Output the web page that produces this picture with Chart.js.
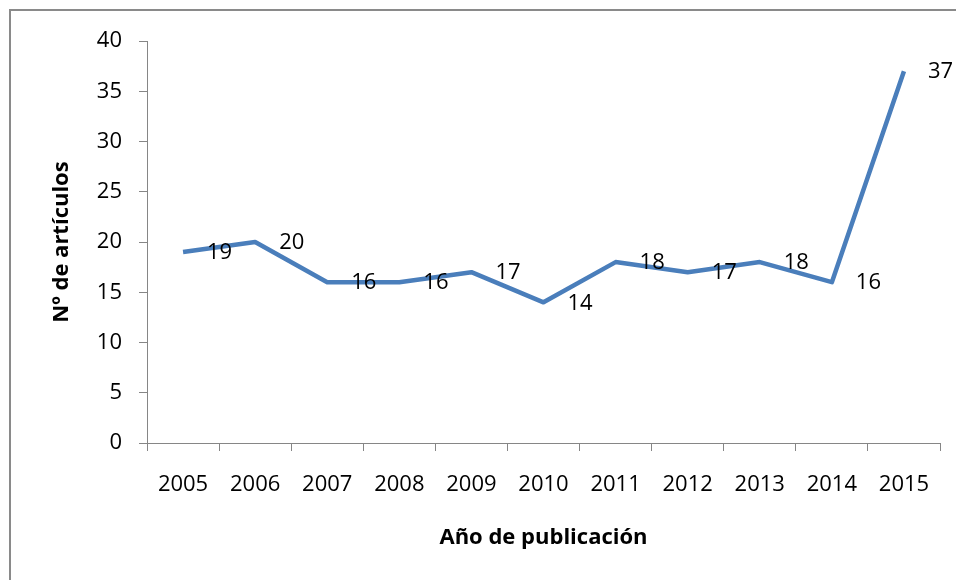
<!DOCTYPE html>
<html>
<head>
<meta charset="utf-8">
<script src="https://cdn.jsdelivr.net/npm/chart.js@4/dist/chart.umd.min.js"></script>
<style>
  html, body { margin: 0; padding: 0; background: #fff; }
  #wrap { position: relative; width: 956px; height: 580px; overflow: hidden; }
  #frame { position: absolute; left: 9px; top: 9px; width: 1000px; height: 1000px;
           border-left: 2px solid #8a8a8a; border-top: 2px solid #8a8a8a; box-sizing: border-box; }
  canvas { position: absolute; left: 0; top: 0; }
</style>
</head>
<body>
<div id="wrap">
  <div id="frame"></div>
  <canvas id="c" width="956" height="580"></canvas>
</div>
<script>
const years = ['2005','2006','2007','2008','2009','2010','2011','2012','2013','2014','2015'];
const articles = [19, 20, 16, 16, 17, 14, 18, 17, 18, 16, 37];
const yTicks = [0, 5, 10, 15, 20, 25, 30, 35, 40];
const xTitle = 'Año de publicación';
const yTitle = 'Nº de artículos';

const FONT = "'Open Sans', sans-serif";
const AXIS = '#868686';

const labelPlugin = {
  id: 'pointLabels',
  afterDatasetsDraw(chart) {
    const ctx = chart.ctx;
    const meta = chart.getDatasetMeta(0);
    ctx.save();
    ctx.font = "22px " + FONT;
    ctx.fillStyle = '#000';
    ctx.textAlign = 'left';
    ctx.textBaseline = 'middle';
    meta.data.forEach((pt, i) => {
      ctx.fillText(String(articles[i]), pt.x + 24, pt.y + 1);
    });
    ctx.restore();
  }
};

new Chart(document.getElementById('c'), {
  type: 'line',
  data: {
    labels: years,
    datasets: [{
      data: articles,
      borderColor: '#4a7ebb',
      borderWidth: 4.5,
      pointRadius: 0,
      pointHoverRadius: 0,
      tension: 0,
      borderJoinStyle: 'round',
      borderCapStyle: 'butt',
      fill: false
    }]
  },
  options: {
    responsive: false,
    animation: false,
    events: [],
    layout: { padding: { left: 0, top: 41, right: 16, bottom: 0 } },
    plugins: { legend: { display: false }, tooltip: { enabled: false } },
    scales: {
      x: {
        type: 'category',
        offset: true,
        afterFit(scale) { scale.height = 137; },
        grid: { offset: true, drawOnChartArea: false, drawTicks: true, tickLength: 8, color: AXIS, lineWidth: 1 },
        border: { color: AXIS, width: 1 },
        ticks: { color: '#000', font: { family: FONT, size: 22 }, padding: 21, maxRotation: 0, autoSkip: false },
        title: { display: true, text: xTitle, color: '#000', font: { family: FONT, size: 22, weight: 'bold' }, padding: { top: 0, bottom: 29 } }
      },
      y: {
        min: 0,
        max: 40,
        afterFit(scale) { scale.width = 147; },
        afterBuildTicks(scale) { scale.ticks = yTicks.map(v => ({ value: v })); },
        grid: { drawOnChartArea: false, drawTicks: true, tickLength: 8, color: AXIS, lineWidth: 1 },
        border: { color: AXIS, width: 1 },
        ticks: { color: '#000', font: { family: FONT, size: 22 }, padding: 17 },
        title: { display: true, text: yTitle, color: '#000', font: { family: FONT, size: 22, weight: 'bold' }, padding: { top: 49, bottom: 0 } }
      }
    }
  },
  plugins: [labelPlugin]
});
</script>
</body>
</html>
